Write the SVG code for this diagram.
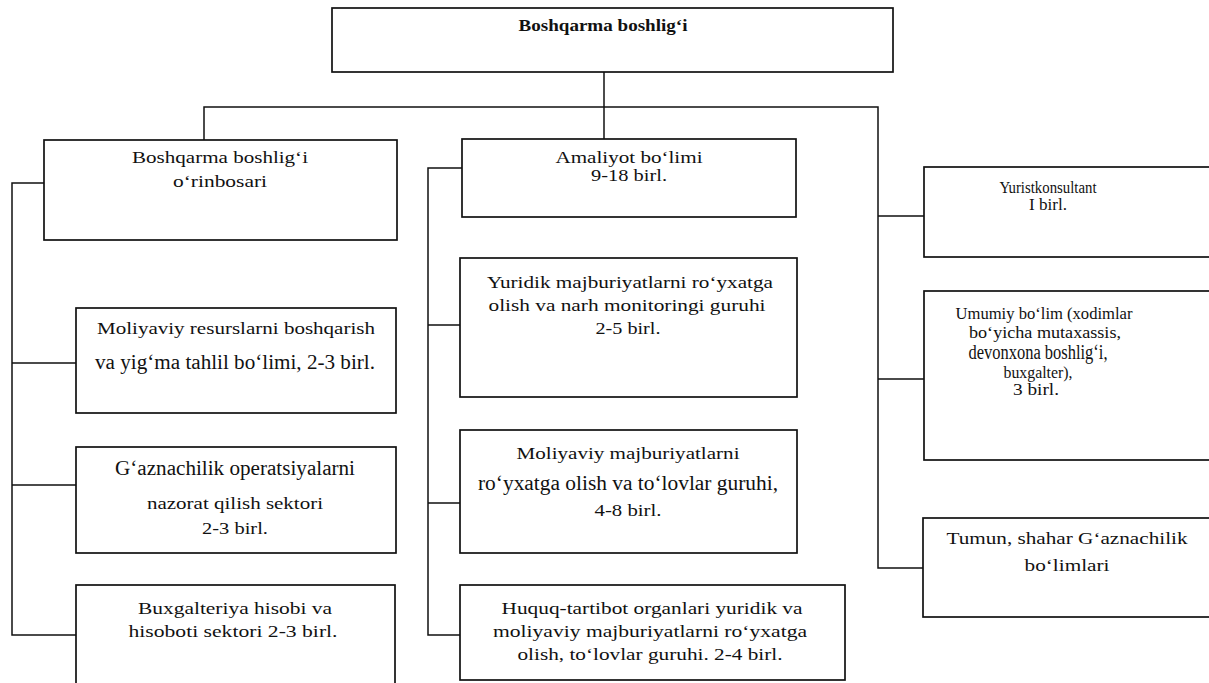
<svg xmlns="http://www.w3.org/2000/svg" width="1209" height="683" viewBox="0 0 1209 683">
<style>
.box{fill:#fff;stroke:#111;stroke-width:1.7}
.ln{fill:none;stroke:#111;stroke-width:1.5}
text{font-family:"Liberation Serif","Times New Roman",serif;font-size:17px;fill:#111;text-anchor:middle}
.b{font-weight:bold}
.L{font-size:20px}
</style>
<rect width="1209" height="683" fill="#fff"/>
<g id="connectors">
<path class="ln" d="M604 72V139"/>
<path class="ln" d="M204 140V107H878V568H923"/>
<path class="ln" d="M878 216H924M878 379H924"/>
<path class="ln" d="M44 183H12V635H76M12 363H76M12 485H76"/>
<path class="ln" d="M462 168H428V635H460M428 325H460M428 503H460"/>
</g>
<g id="n-top"><rect class="box" x="332" y="8" width="561" height="64"/>
<text class="b" x="603" y="31" textLength="169" lengthAdjust="spacingAndGlyphs">Boshqarma boshlig‘i</text></g>
<g id="n-deputy"><rect class="box" x="44" y="140" width="353" height="100"/>
<text x="220" y="163" textLength="176" lengthAdjust="spacingAndGlyphs">Boshqarma boshlig‘i</text>
<text x="220" y="187" textLength="94" lengthAdjust="spacingAndGlyphs">o‘rinbosari</text></g>
<g id="n-amaliyot"><rect class="box" x="462" y="139" width="334" height="78"/>
<text x="629" y="163" textLength="147" lengthAdjust="spacingAndGlyphs">Amaliyot bo‘limi</text>
<text x="629" y="181" textLength="76" lengthAdjust="spacingAndGlyphs">9-18 birl.</text></g>
<g id="n-yurist"><rect class="box" x="924" y="167" width="295" height="90"/>
<text x="1048" y="193" textLength="97" lengthAdjust="spacingAndGlyphs">Yuristkonsultant</text>
<text x="1048" y="210" textLength="38" lengthAdjust="spacingAndGlyphs">I birl.</text></g>
<g id="n-umumiy"><rect class="box" x="924" y="291" width="295" height="169"/>
<text x="1044" y="319" textLength="177" lengthAdjust="spacingAndGlyphs">Umumiy bo‘lim (xodimlar</text>
<text x="1045" y="338" textLength="152" lengthAdjust="spacingAndGlyphs">bo‘yicha mutaxassis,</text>
<text class="L" x="1038" y="359" textLength="139" lengthAdjust="spacingAndGlyphs">devonxona boshlig‘i,</text>
<text x="1038" y="378" textLength="69" lengthAdjust="spacingAndGlyphs">buxgalter),</text>
<text x="1036" y="395" textLength="46" lengthAdjust="spacingAndGlyphs">3 birl.</text></g>
<g id="n-tumun"><rect class="box" x="923" y="518" width="296" height="99"/>
<text x="1067" y="544" textLength="241" lengthAdjust="spacingAndGlyphs">Tumun, shahar G‘aznachilik</text>
<text x="1067" y="571" textLength="85" lengthAdjust="spacingAndGlyphs">bo‘limlari</text></g>
<g id="n-moliyaviy-res"><rect class="box" x="76" y="308" width="320" height="105"/>
<text x="236" y="334" textLength="278" lengthAdjust="spacingAndGlyphs">Moliyaviy resurslarni boshqarish</text>
<text class="L" x="235" y="369" textLength="280" lengthAdjust="spacingAndGlyphs">va yig‘ma tahlil bo‘limi, 2-3 birl.</text></g>
<g id="n-gazna"><rect class="box" x="76" y="447" width="320" height="106"/>
<text class="L" x="235" y="475" textLength="240" lengthAdjust="spacingAndGlyphs">G‘aznachilik operatsiyalarni</text>
<text x="235" y="509" textLength="176" lengthAdjust="spacingAndGlyphs">nazorat qilish sektori</text>
<text x="235" y="534" textLength="66" lengthAdjust="spacingAndGlyphs">2-3 birl.</text></g>
<g id="n-buxg"><rect class="box" x="76" y="585" width="319" height="110"/>
<text x="235" y="614" textLength="194" lengthAdjust="spacingAndGlyphs">Buxgalteriya hisobi va</text>
<text x="233" y="637" textLength="209" lengthAdjust="spacingAndGlyphs">hisoboti sektori 2-3 birl.</text></g>
<g id="n-yuridik"><rect class="box" x="460" y="258" width="337" height="139"/>
<text x="630" y="288" textLength="286" lengthAdjust="spacingAndGlyphs">Yuridik majburiyatlarni ro‘yxatga</text>
<text x="627" y="311" textLength="277" lengthAdjust="spacingAndGlyphs">olish va narh monitoringi guruhi</text>
<text x="628" y="334" textLength="65" lengthAdjust="spacingAndGlyphs">2-5 birl.</text></g>
<g id="n-moliyaviy-maj"><rect class="box" x="460" y="430" width="337" height="123"/>
<text x="628" y="459" textLength="223" lengthAdjust="spacingAndGlyphs">Moliyaviy majburiyatlarni</text>
<text class="L" x="628" y="490" textLength="300" lengthAdjust="spacingAndGlyphs">ro‘yxatga olish va to‘lovlar guruhi,</text>
<text x="628" y="516" textLength="67" lengthAdjust="spacingAndGlyphs">4-8 birl.</text></g>
<g id="n-huquq"><rect class="box" x="460" y="585" width="385" height="95"/>
<text x="652" y="614" textLength="301" lengthAdjust="spacingAndGlyphs">Huquq-tartibot organlari yuridik va</text>
<text x="650" y="637" textLength="314" lengthAdjust="spacingAndGlyphs">moliyaviy majburiyatlarni ro‘yxatga</text>
<text x="650" y="660" textLength="265" lengthAdjust="spacingAndGlyphs">olish, to‘lovlar guruhi. 2-4 birl.</text></g>
</svg>
